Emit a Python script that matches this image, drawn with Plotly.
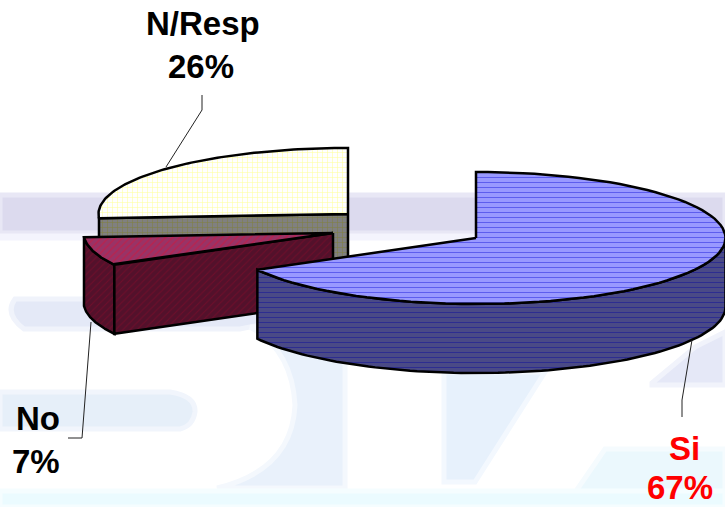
import numpy as np
import plotly.graph_objects as go

labels = ["Si", "No", "N/Resp"]
values = [67, 7, 26]
label_colors = ["#ff0000", "#000000", "#000000"]

# projection of the tilted pie, in page pixels
centres = {"Si": (476, 238), "No": (333, 233), "N/Resp": (348, 214)}
RX, RY, DEPTH = 249.5, 66, 69
W, H = 725, 507

fracs = np.cumsum([0] + values) / sum(values) * 2 * np.pi
spans = {l: (fracs[i], fracs[i + 1]) for i, l in enumerate(labels)}


def rim(label, a0=None, a1=None, dz=0):
    s, e = spans[label]
    a0 = s if a0 is None else a0
    a1 = e if a1 is None else a1
    t = np.linspace(a0, a1, 90)
    cx, cy = centres[label]
    return cx + RX * np.sin(t), cy - RY * np.cos(t) + dz


def top(label):
    x, y = rim(label)
    cx, cy = centres[label]
    return np.r_[cx, x, cx], np.r_[cy, y, cy]


def wall(label, a0=None, a1=None):
    x, y = rim(label, a0, a1)
    xb, yb = rim(label, a0, a1, DEPTH)
    return np.r_[x, xb[::-1], x[0]], np.r_[y, yb[::-1], y[0]]


def cut(label):
    s = spans[label][0]
    x, y = rim(label, s, s)
    cx, cy = centres[label]
    return [cx, x[0], x[0], cx, cx], [cy, y[0], y[0] + DEPTH, cy + DEPTH, cy]


fig = go.Figure()


def face(xy, bg, fg, shape, size, sol):
    fig.add_trace(go.Scatter(
        x=xy[0], y=xy[1], mode="lines", fill="toself", hoverinfo="skip",
        line=dict(color="#000000", width=2.5),
        fillcolor=bg,
        fillpattern=dict(shape=shape, bgcolor=bg, fgcolor=fg, size=size, solidity=sol),
    ))


# N/Resp
face(cut("N/Resp"), "#808080", "#808000", "+", 5, 0.2)
face(top("N/Resp"), "#ffffff", "#ffff33", "+", 5, 0.2)
# No
face(wall("No"), "#53112b", "#8a0a2a", "/", 5, 0.2)
face(cut("No"), "#53112b", "#8a0a2a", "/", 5, 0.2)
face(top("No"), "#993366", "#dd1133", "/", 5, 0.25)
# Si
face(wall("Si", np.pi / 2, spans["Si"][1]), "#4a4a86", "#10109a", "-", 5, 0.2)
face(top("Si"), "#9999ff", "#2222dd", "-", 5, 0.2)

# leader lines
leaders = {
    "N/Resp": ([202, 202, 166], [95, 110, 167]),
    "No": ([68, 82, 91], [438, 438, 322]),
    "Si": ([682, 682, 692], [417, 400, 340]),
}
for lx, ly in leaders.values():
    fig.add_trace(go.Scatter(x=lx, y=ly, mode="lines", hoverinfo="skip",
                             line=dict(color="#222222", width=1)))

# label text
label_pos = {
    "N/Resp": ((203, 23), (201, 66)),
    "No": ((38, 418), (36, 461)),
    "Si": ((684, 448), (680, 487)),
}
for lab, val, col in zip(labels, values, label_colors):
    (x1, y1), (x2, y2) = label_pos[lab]
    for txt, xx, yy in ((lab, x1, y1), (f"{val}%", x2, y2)):
        fig.add_annotation(x=xx, y=yy, text=f"<b>{txt}</b>", showarrow=False,
                           font=dict(family="Liberation Sans", size=33, color=col))


# faint watermark behind the chart
def poly(path, color, soft):
    return dict(type="path", path=path, fillcolor=color, layer="below",
                line=dict(width=5, color=soft))


shapes = [
    poly("M0,195 L725,195 L725,233 L0,233 Z", "#dcdaee", "#e8e7f5"),
    poly("M0,236 L725,236 L725,238 L0,238 Z", "#ececfb", "#f4f4fd"),
    poly("M15,299 L270,299 L298,325 L260,325 L240,329 L24,329 Q4,314 15,299 Z", "#e4e9f7", "#f0f3fb"),
    poly("M0,392 L170,392 Q196,396 195,412 Q193,426 180,429 L0,429 Z", "#e6eff9", "#f1f5fc"),
    poly("M250,327 L345,327 L345,488 L217,488 Q292,470 295,405 Q292,350 250,327 Z", "#e9f1fb", "#f4f8fd"),
    poly("M444,372 L545,372 L475,482 L444,482 Z", "#e7f1fc", "#f3f8fe"),
    poly("M652,383 L695,347 L725,332 L725,385 L652,385 Z", "#e5e8f7", "#f1f3fb"),
    poly("M605,449 L725,449 L725,507 L565,507 Z", "#ebf8fd", "#f5fbfe"),
    poly("M0,491 L725,491 L725,507 L0,507 Z", "#ebfbff", "#f5fdff"),
]

fig.update_layout(
    width=W, height=H, margin=dict(l=0, r=0, t=0, b=0), showlegend=False,
    paper_bgcolor="#ffffff", plot_bgcolor="#ffffff", shapes=shapes,
    xaxis=dict(range=[0, W], visible=False, fixedrange=True),
    yaxis=dict(range=[H, 0], visible=False, fixedrange=True),
)
fig.write_html("out.html", config={"displayModeBar": False},
               post_script="document.body.style.margin='0';document.documentElement.style.overflow='hidden';")
